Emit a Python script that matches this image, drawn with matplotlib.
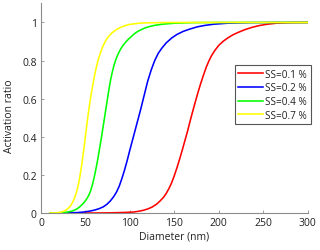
import matplotlib
matplotlib.use("Agg")
import matplotlib.pyplot as plt

# ---- data ----
labels = ["SS=0.1 %", "SS=0.2 %", "SS=0.4 %", "SS=0.7 %"]
colors = ["#ff0000", "#0000ff", "#00ff00", "#ffff00"]

d_red = [10, 60, 80, 95, 104, 110, 115, 120, 125, 130, 134, 138, 141, 144, 147, 150, 153, 156,
         159, 162, 165, 168, 171, 174, 177, 180, 183, 186, 189, 192, 196, 200, 205, 210, 216,
         222, 230, 238, 246, 255, 265, 280, 300]
v_red = [0, 0, 0.001, 0.003, 0.005, 0.009, 0.014, 0.021, 0.031, 0.046, 0.063, 0.083, 0.103,
         0.128, 0.158, 0.195, 0.237, 0.282, 0.33, 0.38, 0.43, 0.485, 0.537, 0.588, 0.637,
         0.683, 0.725, 0.765, 0.798, 0.826, 0.855, 0.879, 0.901, 0.918, 0.935, 0.948, 0.963,
         0.975, 0.984, 0.991, 0.996, 0.999, 1.0]

d_blue = [10, 30, 40, 48, 55, 60, 65, 70, 74, 78, 82, 85, 88, 91, 94, 97, 100, 104, 108, 112,
          116, 120, 124, 128, 132, 136, 141, 147, 153, 160, 168, 176, 185, 195, 210, 235, 270,
          300]
v_blue = [0, 0.001, 0.002, 0.005, 0.01, 0.015, 0.022, 0.032, 0.045, 0.063, 0.087, 0.11, 0.14,
          0.18, 0.225, 0.275, 0.33, 0.4, 0.47, 0.54, 0.615, 0.69, 0.75, 0.8, 0.838, 0.865,
          0.893, 0.918, 0.937, 0.953, 0.966, 0.977, 0.985, 0.991, 0.996, 0.999, 1.0, 1.0]

d_green = [10, 20, 25, 30, 35, 40, 43, 46, 49, 52, 54, 56, 58, 60, 62, 64, 66, 68, 70, 72, 74,
           76, 78, 80, 82, 84, 86, 88, 90, 92, 95, 98, 102, 106, 110, 115, 120, 128, 137, 150,
           170, 200, 300]
v_green = [0, 0.001, 0.002, 0.005, 0.01, 0.02, 0.03, 0.043, 0.058, 0.078, 0.095, 0.118, 0.15,
           0.19, 0.235, 0.285, 0.34, 0.395, 0.455, 0.515, 0.575, 0.635, 0.69, 0.735, 0.772,
           0.802, 0.826, 0.846, 0.863, 0.877, 0.895, 0.91, 0.928, 0.944, 0.956, 0.967, 0.976,
           0.985, 0.991, 0.996, 0.999, 1.0, 1.0]

d_yellow = [10, 14, 18, 22, 25, 28, 30, 32, 34, 36, 38, 40, 42, 44, 46, 48, 50, 52, 54, 56, 58,
            60, 62, 64, 66, 68, 70, 72, 74, 76, 80, 85, 90, 95, 100, 110, 120, 135, 160, 300]
v_yellow = [0, 0.0005, 0.0015, 0.004, 0.008, 0.015, 0.022, 0.031, 0.043, 0.06, 0.082, 0.11,
            0.148, 0.197, 0.258, 0.328, 0.403, 0.478, 0.548, 0.61, 0.665, 0.715, 0.759, 0.797,
            0.828, 0.855, 0.878, 0.897, 0.913, 0.926, 0.946, 0.963, 0.975, 0.984, 0.99, 0.996,
            0.998, 0.9995, 1.0, 1.0]

x_ticks = [0, 50, 100, 150, 200, 250, 300]
y_ticks = [0, 0.2, 0.4, 0.6, 0.8, 1]
y_tick_labels = ["0", "0.2", "0.4", "0.6", "0.8", "1"]

plt.rcParams['font.family'] = ['Open Sans', 'DejaVu Sans']

fig = plt.figure(figsize=(3.2, 2.51), dpi=100)
ax = fig.add_axes([41 / 320, 37 / 251, 266.5 / 320, 209.6 / 251])

series = [(d_red, v_red), (d_blue, v_blue), (d_green, v_green), (d_yellow, v_yellow)]
for (d, v), c, lab in zip(series, colors, labels):
    ax.plot(d, v, color=c, lw=1.15, label=lab, solid_joinstyle='round')

ax.set_xlim(0, 300)
ax.set_ylim(0, 1.1)
ax.set_xticks(x_ticks)
ax.set_yticks(y_ticks)
ax.set_yticklabels(y_tick_labels)
for s in ['top', 'right']:
    ax.spines[s].set_visible(False)
for s in ['left', 'bottom']:
    ax.spines[s].set_color('#8c8c8c')
    ax.spines[s].set_linewidth(0.8)
ax.tick_params(direction='in', length=2.5, width=0.6, color='#8c8c8c',
               labelsize=7.5, labelcolor='#222222', pad=3)
ax.set_xlabel("Diameter (nm)", fontsize=7.5, color='#222222', labelpad=2)
ax.set_ylabel("Activation ratio", fontsize=7.5, color='#222222')
ax.yaxis.set_label_coords(-0.098, 0.467)

leg = ax.legend(loc='upper right', bbox_to_anchor=(310.7 / 320, 1 - 66 / 251),
                bbox_transform=fig.transFigure, borderaxespad=0, fontsize=7.2,
                fancybox=False, framealpha=1, edgecolor='#555555',
                handlelength=2.5, handletextpad=0.2, labelspacing=0.28,
                borderpad=0.35)
leg.get_frame().set_linewidth(0.8)
for t in leg.get_texts():
    t.set_color('#222222')

fig.savefig("out.png", dpi=100)
